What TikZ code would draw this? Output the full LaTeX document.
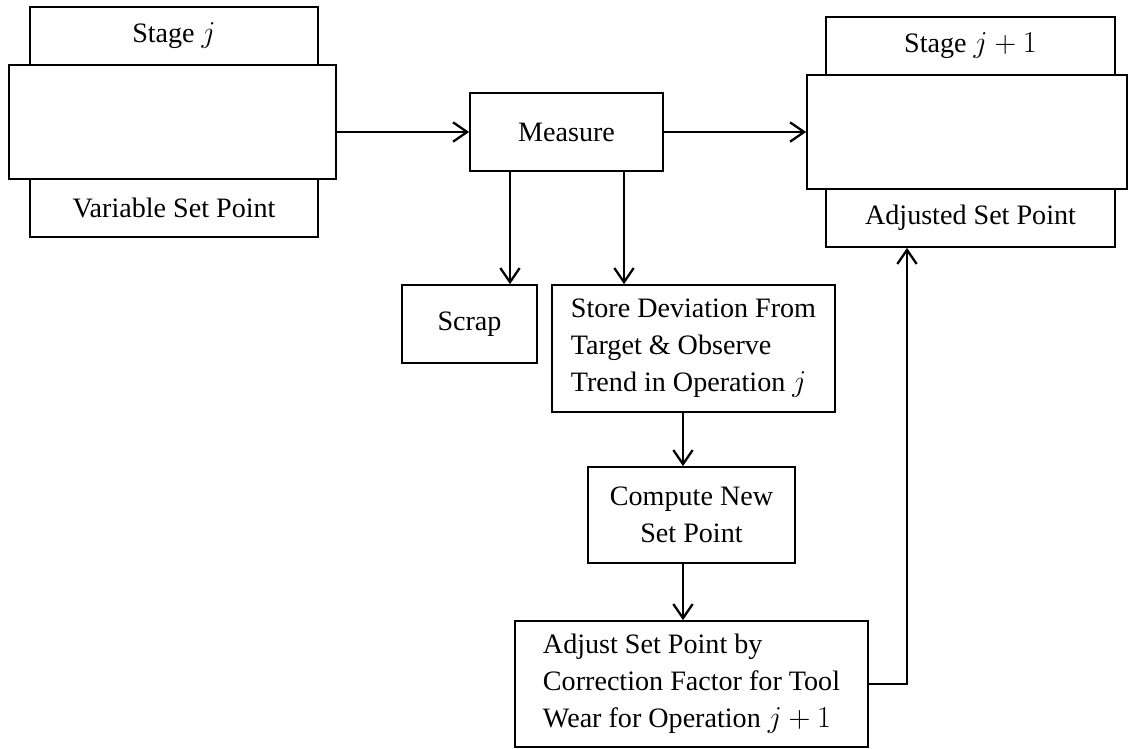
\documentclass[tikz,border=0pt]{standalone}
\usepackage{fontspec}
\setmainfont{Liberation Serif}
\usetikzlibrary{arrows.meta}

\begin{document}
\begin{tikzpicture}[x=0.02cm,y=-0.02cm,
  box/.style={draw, line width=1pt, fill=white, inner sep=0pt,
    font=\fontsize{16}{21}\selectfont},
  flow/.style={line width=1pt, -{Straight Barb[length=8pt,width=11pt,line width=1.3pt]}}]

\useasboundingbox (0,0) rectangle (1129,748);

% Stage j with its two tabs
\node[box, minimum width=5.76cm, minimum height=1.16cm] (sjtop) at (174,36) {Stage $j$};
\node[box, minimum width=5.76cm, minimum height=1.16cm] (sjbot) at (174,208) {Variable Set Point};
\node[box, minimum width=6.54cm, minimum height=2.28cm] (sjmain) at (172.5,122) {};

% Stage j+1 with its two tabs
\node[box, minimum width=5.78cm, minimum height=1.16cm] (sktop) at (970.5,46) {Stage $j+1$};
\node[box, minimum width=5.78cm, minimum height=1.16cm] (skbot) at (970.5,218) {Adjusted Set Point};
\node[box, minimum width=6.4cm, minimum height=2.28cm] (skmain) at (967,132) {};

% the steps in between
\node[box, minimum width=3.86cm, minimum height=1.56cm] (measure) at (566.5,132) {Measure};
\node[box, minimum width=2.7cm, minimum height=1.56cm] (scrap) at (469.5,324) {Scrap};
\node[box, minimum width=5.66cm, minimum height=2.54cm, align=left] (store) at (693.5,348.5)
  {Store Deviation From\\Target \& Observe\\Trend in Operation $j$};
\node[box, minimum width=4.14cm, minimum height=1.92cm, align=center] (compute) at (691.5,515)
  {Compute New\\Set Point};
\node[box, minimum width=7.06cm, minimum height=2.52cm, align=left] (adjust) at (691.5,684)
  {Adjust Set Point by\\Correction Factor for Tool\\Wear for Operation $j+1$};

% where the vertical arrows run
\coordinate (scrapx) at (510,0);
\coordinate (storex) at (624,0);
\coordinate (computex) at (683,0);
\coordinate (backx) at (907,0);

% Draw the arrows
\draw[flow] (measure.west -| sjmain.east) -- (measure.west);
\draw[flow] (measure.east) -- (measure.east -| skmain.west);
\draw[flow] (measure.south -| scrapx) -- (scrap.north -| scrapx);
\draw[flow] (measure.south -| storex) -- (store.north -| storex);
\draw[flow] (store.south -| computex) -- (compute.north -| computex);
\draw[flow] (compute.south -| computex) -- (adjust.north -| computex);

% feedback to stage j+1
\draw[flow] (adjust.east) -| (skbot.south -| backx);

\end{tikzpicture}
\end{document}
